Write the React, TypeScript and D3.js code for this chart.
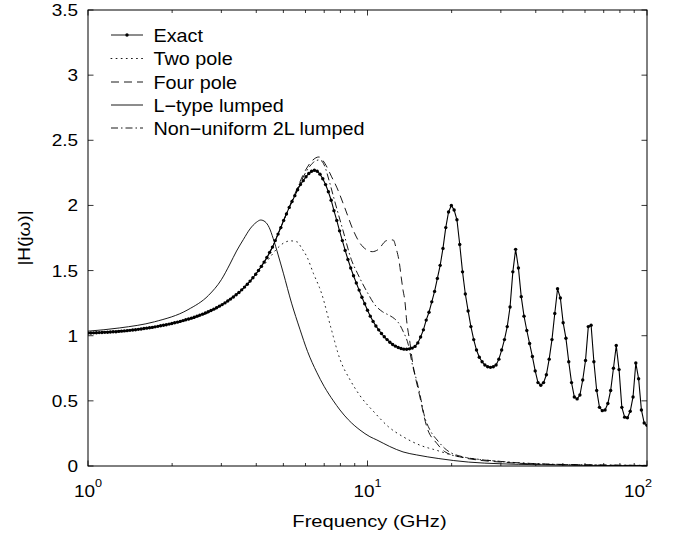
import React from 'react';
import * as d3 from 'd3';

const W = 690;
const H = 538;
const PLOT = { left: 88, right: 647, top: 10, bottom: 466 };

// Exact response, sampled on a log grid: exponent = start + i * step
const EXACT_EXP_START = 0;
const EXACT_EXP_STEP = 0.01;
const EXACT_VALUES = [
  1.020, 1.021, 1.022, 1.023, 1.024, 1.025, 1.026, 1.027, 1.028, 1.030,
  1.031, 1.033, 1.035, 1.037, 1.039, 1.041, 1.044, 1.046, 1.049, 1.052,
  1.055, 1.058, 1.061, 1.064, 1.068, 1.072, 1.076, 1.080, 1.084, 1.089,
  1.094, 1.099, 1.104, 1.110, 1.116, 1.122, 1.128, 1.135, 1.142, 1.150,
  1.158, 1.166, 1.175, 1.184, 1.194, 1.204, 1.215, 1.227, 1.239, 1.252,
  1.266, 1.281, 1.297, 1.314, 1.332, 1.352, 1.373, 1.395, 1.419, 1.445,
  1.472, 1.501, 1.532, 1.565, 1.600, 1.640, 1.680, 1.730, 1.780, 1.830,
  1.885, 1.935, 1.985, 2.030, 2.075, 2.120, 2.160, 2.190, 2.220, 2.245,
  2.262, 2.270, 2.262, 2.240, 2.205, 2.160, 2.105, 2.040, 1.960, 1.885,
  1.805, 1.730, 1.655, 1.585, 1.520, 1.460, 1.405, 1.350, 1.295, 1.245,
  1.195, 1.150, 1.110, 1.075, 1.045, 1.017, 0.992, 0.970, 0.950, 0.933,
  0.920, 0.910, 0.902, 0.897, 0.896, 0.899, 0.905, 0.918, 0.945, 0.990,
  1.045, 1.120, 1.180, 1.260, 1.340, 1.440, 1.540, 1.670, 1.830, 1.950,
  2.000, 1.965, 1.890, 1.700, 1.490, 1.320, 1.190, 1.070, 0.970, 0.890,
  0.835, 0.800, 0.775, 0.762, 0.757, 0.762, 0.775, 0.820, 0.890, 0.970,
  1.070, 1.220, 1.490, 1.663, 1.520, 1.300, 1.150, 1.040, 0.940, 0.840,
  0.730, 0.640, 0.620, 0.640, 0.700, 0.820, 0.970, 1.170, 1.360, 1.290,
  1.100, 0.980, 0.800, 0.640, 0.530, 0.515, 0.545, 0.660, 0.810, 1.070,
  1.080, 0.800, 0.580, 0.450, 0.425, 0.430, 0.480, 0.580, 0.750, 0.925,
  0.740, 0.450, 0.375, 0.370, 0.420, 0.530, 0.790, 0.670, 0.430, 0.330,
  0.312,
];

const TWO_POLE_FREQ = [1, 1.5, 2, 2.5, 3, 3.5, 4, 4.4, 4.73, 5.0, 5.3, 5.6, 5.82, 6.07, 6.4, 6.85, 7.4, 7.97, 8.67, 9.4, 10.6, 11.9, 13.4, 15.4, 17.7, 20.8, 23.2, 30.6, 40, 60, 100];
const TWO_POLE_VALUES = [1.02, 1.05, 1.094, 1.148, 1.235, 1.34, 1.47, 1.58, 1.665, 1.71, 1.728, 1.72, 1.67, 1.606, 1.48, 1.325, 1.06, 0.82, 0.66, 0.54, 0.41, 0.30, 0.225, 0.16, 0.12, 0.075, 0.06, 0.033, 0.017, 0.008, 0.003];

const FOUR_POLE_FREQ = [1, 2, 3, 4, 4.5, 5.0, 5.5, 6.0, 6.35, 6.7, 7.05, 7.44, 7.76, 8.3, 8.89, 9.4, 9.92, 10.4, 10.9, 11.7, 12.35, 12.7, 13.0, 13.2, 13.4, 13.6, 13.8, 14.2, 14.4, 15.4, 16.3, 17.7, 18.9, 21.4, 25, 30, 40, 60, 100];
const FOUR_POLE_VALUES = [1.02, 1.094, 1.235, 1.478, 1.65, 1.88, 2.09, 2.27, 2.345, 2.372, 2.32, 2.22, 2.14, 1.98, 1.81, 1.71, 1.66, 1.645, 1.66, 1.73, 1.735, 1.66, 1.56, 1.45, 1.35, 1.27, 1.12, 0.94, 0.84, 0.53, 0.30, 0.174, 0.11, 0.07, 0.045, 0.03, 0.015, 0.008, 0.004];

const L_TYPE_FREQ = [1, 1.3, 1.73, 2.28, 2.7, 3.0, 3.22, 3.4, 3.6, 3.8, 4.0, 4.15, 4.3, 4.45, 4.6, 4.79, 5.0, 5.35, 5.73, 6.1, 6.58, 7.0, 7.55, 7.97, 8.54, 9.4, 10.2, 10.8, 12.0, 13.4, 15, 18, 23, 30, 40, 60, 100];
const L_TYPE_VALUES = [1.035, 1.06, 1.107, 1.20, 1.31, 1.43, 1.55, 1.65, 1.74, 1.82, 1.87, 1.888, 1.875, 1.83, 1.745, 1.62, 1.48, 1.25, 1.05, 0.88, 0.72, 0.61, 0.50, 0.43, 0.355, 0.276, 0.225, 0.20, 0.15, 0.108, 0.085, 0.057, 0.03, 0.017, 0.01, 0.005, 0.002];

const NONUNIFORM_FREQ = [1, 2, 3, 4, 4.5, 5.0, 5.5, 6.0, 6.4, 6.75, 7.0, 7.29, 7.55, 7.8, 8.18, 8.75, 9.2, 9.6, 10.0, 10.6, 11.3, 12.0, 12.5, 12.9, 13.4, 14.0, 14.5, 15.0, 15.4, 16.0, 16.7, 17.9, 18.9, 22, 30, 50, 100];
const NONUNIFORM_VALUES = [1.02, 1.094, 1.235, 1.478, 1.65, 1.88, 2.08, 2.25, 2.33, 2.35, 2.31, 2.19, 2.07, 1.96, 1.805, 1.585, 1.48, 1.40, 1.33, 1.24, 1.185, 1.155, 1.13, 1.10, 1.035, 0.93, 0.77, 0.655, 0.55, 0.38, 0.28, 0.19, 0.135, 0.07, 0.035, 0.012, 0.005];

const Y_TICKS = [0, 0.5, 1, 1.5, 2, 2.5, 3, 3.5];
const Y_TICK_LABELS = ['0', '0.5', '1', '1.5', '2', '2.5', '3', '3.5'];
const X_DECADES = [1, 10, 100];
const X_DECADE_EXPONENTS = ['0', '1', '2'];

const LEGEND_NAMES = ['Exact', 'Two pole', 'Four pole', 'L\u2212type lumped', 'Non\u2212uniform 2L lumped'];

const FONT = "'Liberation Sans', Arial, Helvetica, sans-serif";

const DASH: Record<string, string | undefined> = {
  exact: undefined,
  two: '0.9,4.2',
  four: '8,5',
  ltype: undefined,
  nonu: '7,3,1.5,3',
};

function Txt({ x, y, size, sx = 1, anchor = 'start', rotate = 0, children }: any) {
  return (
    <text
      transform={`translate(${x},${y}) rotate(${rotate}) scale(${sx},1)`}
      fontSize={size}
      textAnchor={anchor}
      fontFamily={FONT}
      fill="#000"
    >
      {children}
    </text>
  );
}

export default function App() {
  const x = d3.scaleLog().domain([1, 100]).range([PLOT.left, PLOT.right]);
  const y = d3.scaleLinear().domain([0, 3.5]).range([PLOT.bottom, PLOT.top]);

  const exactData: [number, number][] = EXACT_VALUES.map((v, i) => [
    Math.pow(10, EXACT_EXP_START + i * EXACT_EXP_STEP),
    v,
  ]);
  const zip = (f: number[], v: number[]) => f.map((ff, i) => [ff, v[i]] as [number, number]);

  const linear = d3.line<[number, number]>().x((d) => x(d[0])).y((d) => y(d[1]));
  const smooth = d3
    .line<[number, number]>()
    .x((d) => x(d[0]))
    .y((d) => y(d[1]))
    .curve(d3.curveMonotoneX);

  const minorTicks = x.ticks();
  const legendRows = [35, 58.5, 82, 105, 128];
  const legendDash = [DASH.exact, DASH.two, DASH.four, DASH.ltype, DASH.nonu];

  const tickLen = 5.5;
  const minorLen = 3;

  return (
    <svg
      width={W}
      height={H}
      viewBox={`0 0 ${W} ${H}`}
      style={{ position: 'absolute', left: 0, top: 0, background: '#fff', display: 'block' }}
    >
      <defs>
        <clipPath id="plotclip">
          <rect x={PLOT.left} y={PLOT.top} width={PLOT.right - PLOT.left} height={PLOT.bottom - PLOT.top} />
        </clipPath>
      </defs>
      <rect x={0} y={0} width={W} height={H} fill="#fff" />

      {/* curves */}
      <g clipPath="url(#plotclip)" fill="none" stroke="#000" strokeWidth={0.9}>
        <path d={smooth(zip(L_TYPE_FREQ, L_TYPE_VALUES)) || ''} />
        <path d={smooth(zip(TWO_POLE_FREQ, TWO_POLE_VALUES)) || ''} strokeDasharray={DASH.two} strokeLinecap="round" />
        <path d={smooth(zip(FOUR_POLE_FREQ, FOUR_POLE_VALUES)) || ''} strokeDasharray={DASH.four} />
        <path d={smooth(zip(NONUNIFORM_FREQ, NONUNIFORM_VALUES)) || ''} strokeDasharray={DASH.nonu} />
        <path d={linear(exactData) || ''} strokeWidth={1.1} />
        {exactData.map((d, i) => (
          <circle key={i} cx={x(d[0])} cy={y(d[1])} r={1.7} fill="#000" stroke="none" />
        ))}
      </g>

      {/* axes box */}
      <rect
        x={PLOT.left}
        y={PLOT.top}
        width={PLOT.right - PLOT.left}
        height={PLOT.bottom - PLOT.top}
        fill="none"
        stroke="#000"
        strokeWidth={1}
      />

      {/* x ticks (log) */}
      {minorTicks.map((t, i) => {
        const major = X_DECADES.includes(t);
        const len = major ? tickLen : minorLen;
        const px = x(t);
        return (
          <g key={'xt' + i} stroke="#000" strokeWidth={0.8}>
            <line x1={px} x2={px} y1={PLOT.bottom} y2={PLOT.bottom - len} />
            <line x1={px} x2={px} y1={PLOT.top} y2={PLOT.top + len} />
          </g>
        );
      })}

      {/* y ticks */}
      {Y_TICKS.map((t, i) => (
        <g key={'yt' + i} stroke="#000" strokeWidth={0.8}>
          <line x1={PLOT.left} x2={PLOT.left + tickLen} y1={y(t)} y2={y(t)} />
          <line x1={PLOT.right} x2={PLOT.right - tickLen} y1={y(t)} y2={y(t)} />
        </g>
      ))}

      {/* y tick labels */}
      {Y_TICKS.map((t, i) => (
        <Txt key={'yl' + i} x={78} y={y(t) + 6} size={16.5} sx={1.15} anchor="end">
          {Y_TICK_LABELS[i]}
        </Txt>
      ))}

      {/* x tick labels */}
      {X_DECADES.map((t, i) => (
        <Txt key={'xl' + i} x={i === 2 ? 638 : x(t)} y={497} size={16.5} sx={1.15} anchor="middle">
          10
          <tspan fontSize={11} dy={-10}>
            {X_DECADE_EXPONENTS[i]}
          </tspan>
        </Txt>
      ))}

      {/* axis labels */}
      <Txt x={369.5} y={527} size={16.5} sx={1.22} anchor="middle">
        Frequency (GHz)
      </Txt>
      <Txt x={30} y={238} size={16.5} sx={1.15} anchor="middle" rotate={-90}>
        |H(j&#969;)|
      </Txt>

      {/* legend */}
      {LEGEND_NAMES.map((name, i) => {
        const cy = legendRows[i];
        return (
          <g key={'lg' + i}>
            <line
              x1={111}
              x2={143}
              y1={cy}
              y2={cy}
              stroke="#000"
              strokeWidth={0.9}
              strokeDasharray={legendDash[i]}
              strokeLinecap={i === 1 ? 'round' : 'butt'}
            />
            {i === 0 && <circle cx={127} cy={cy} r={1.7} fill="#000" />}
            <Txt x={153.5} y={cy + 6.5} size={18} sx={1.1}>
              {name}
            </Txt>
          </g>
        );
      })}
    </svg>
  );
}
